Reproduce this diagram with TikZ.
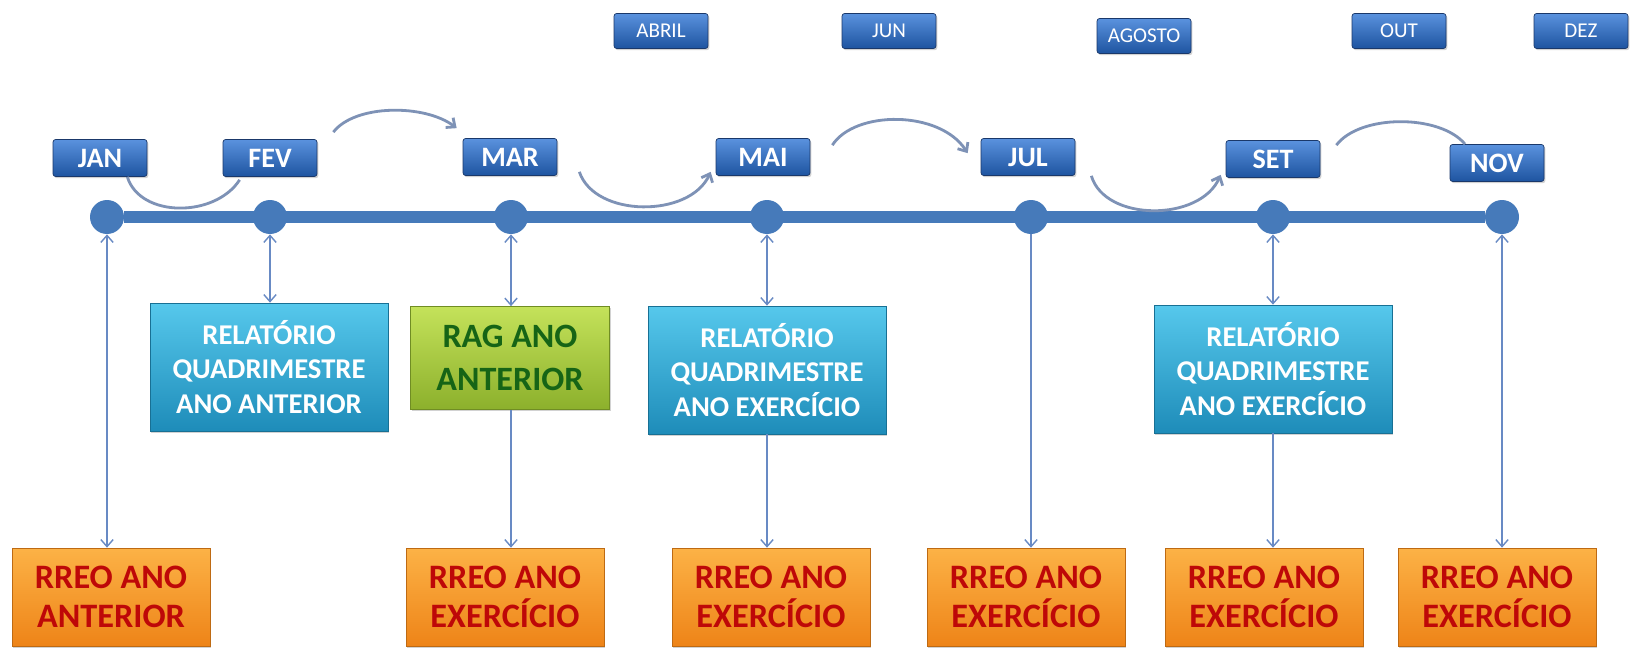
\documentclass[tikz,border=0pt]{standalone}
\usepackage{fontspec}
\setmainfont{Carlito}
\usetikzlibrary{positioning, arrows.meta, calc, shadows}

\definecolor{linha}{RGB}{70,122,186}
\definecolor{mescima}{RGB}{90,146,222}
\definecolor{mesbaixo}{RGB}{30,84,160}
\definecolor{mesborda}{RGB}{26,56,106}
\definecolor{relcima}{RGB}{86,200,236}
\definecolor{relbaixo}{RGB}{30,140,185}
\definecolor{ragcima}{RGB}{196,226,90}
\definecolor{ragbaixo}{RGB}{140,176,44}
\definecolor{ragtexto}{RGB}{22,100,22}
\definecolor{rreocima}{RGB}{252,178,70}
\definecolor{rreobaixo}{RGB}{238,132,24}
\definecolor{rreotexto}{RGB}{190,8,8}
\definecolor{setacor}{RGB}{104,138,196}
\definecolor{curvacor}{RGB}{126,146,182}

\begin{document}
\begin{tikzpicture}[x=0.02cm, y=-0.02cm, >={Straight Barb[length=4pt,width=7pt]},
    sombra/.style={drop shadow={opacity=0.35, shadow xshift=0.8pt, shadow yshift=-1pt}},
    mes/.style={draw=mesborda, top color=mescima, bottom color=mesbaixo, rounded corners=1.5pt,
        minimum width=1.88cm, minimum height=0.74cm, inner sep=0pt, text=white,
        font=\fontsize{16}{19}\selectfont\bfseries, sombra},
    mestopo/.style={mes, minimum height=0.7cm, font=\fontsize{12}{14}\selectfont},
    ponto/.style={circle, fill=linha, minimum size=0.68cm, inner sep=0pt},
    rel/.style={draw=relbaixo!80!black, top color=relcima, bottom color=relbaixo,
        minimum width=4.76cm, minimum height=2.56cm, inner sep=0pt, align=center,
        text=white, font=\fontsize{16.3}{19.8}\selectfont\bfseries, sombra},
    rag/.style={draw=ragbaixo!80!black, top color=ragcima, bottom color=ragbaixo,
        minimum width=3.98cm, minimum height=2.06cm, inner sep=0pt, align=center,
        text=ragtexto, font=\fontsize{19.4}{24.5}\selectfont\bfseries, sombra},
    rreo/.style={draw=rreobaixo!80!black, top color=rreocima, bottom color=rreobaixo,
        minimum width=3.96cm, minimum height=1.96cm, inner sep=0pt, align=center,
        text=rreotexto, font=\fontsize{19.5}{22}\selectfont\bfseries, sombra},
    seta/.style={draw=setacor, line width=0.8pt},
    curva/.style={draw=curvacor, line width=1.6pt}]

    \fill[white] (0,0) rectangle (1634,648);
    \useasboundingbox (0,0) rectangle (1634,648);

    % ---------------------------------------------------
    % Linha do tempo
    % ---------------------------------------------------
    \node[ponto] (dJAN) at (107,217) {};
    \node[ponto] (dFEV) at (270,217) {};
    \node[ponto] (dMAR) at (511,217) {};
    \node[ponto] (dMAI) at (767,217) {};
    \node[ponto] (dJUL) at (1031,217) {};
    \node[ponto] (dSET) at (1273,217) {};
    \node[ponto] (dNOV) at (1502,217) {};
    \draw[linha, line width=6.8pt] (dJAN) -- (dNOV);

    % ---------------------------------------------------
    % Meses
    % ---------------------------------------------------
    \node[mes] (JAN) at (100,158) {JAN};
    \node[mes] (FEV) at (270,158) {FEV};
    \node[mes] (MAR) at (510,157) {MAR};
    \node[mes] (MAI) at (763,157) {MAI};
    \node[mes] (JUL) at (1028,157) {JUL};
    \node[mes] (SET) at (1273,159) {SET};
    \node[mes] (NOV) at (1497,163) {NOV};

    \node[mestopo] (ABRIL) at (661,31) {ABRIL};
    \node[mestopo] (JUN) at (889,31) {JUN};
    \node[mestopo] (AGOSTO) at (1144,36) {AGOSTO};
    \node[mestopo] (OUT) at (1399,31) {OUT};
    \node[mestopo] (DEZ) at (1581,31) {DEZ};

    % Curvas entre os meses
    \draw[curva] ([xshift=-0.4cm]JAN.south east) .. controls (140,218) and (215,218) .. ([xshift=0.34cm, yshift=-0.06cm]FEV.south west);
    \draw[curva, ->] ([xshift=0.32cm, yshift=0.14cm]FEV.north east) .. controls (355,104) and (425,104) .. ([xshift=-0.12cm, yshift=0.2cm]MAR.north west);
    \draw[curva, ->] ([xshift=0.44cm, yshift=0.08cm]MAR.south east) .. controls (595,218) and (690,218) .. ([xshift=-0.1cm, yshift=0.08cm]MAI.south west);
    \draw[curva, ->] ([xshift=0.44cm, yshift=-0.14cm]MAI.north east) .. controls (855,110) and (940,110) .. ([xshift=-0.26cm, yshift=-0.3cm]JUL.north west);
    \draw[curva, ->] ([xshift=0.32cm]JUL.south east) .. controls (1105,222) and (1200,222) .. ([xshift=-0.1cm, yshift=0.06cm]SET.south west);
    \draw[curva] ([xshift=0.32cm, yshift=-0.1cm]SET.north east) .. controls (1360,114) and (1440,114) .. ([xshift=-0.64cm]NOV.north);

    % ---------------------------------------------------
    % Relatorios
    % ---------------------------------------------------
    \node[rel] (rel1) at (269,367) {RELATÓRIO\\QUADRIMESTRE\\ANO ANTERIOR};
    \node[rag] (rag) at (510,358) {RAG ANO\\ANTERIOR};
    \node[rel] (rel2) at (767,370) {RELATÓRIO\\QUADRIMESTRE\\ANO EXERCÍCIO};
    \node[rel] (rel3) at (1273,369) {RELATÓRIO\\QUADRIMESTRE\\ANO EXERCÍCIO};

    \node[rreo] (r1) at (111,597) {RREO ANO\\ANTERIOR};
    \node[rreo] (r2) at (505,597) {RREO ANO\\EXERCÍCIO};
    \node[rreo] (r3) at (771,597) {RREO ANO\\EXERCÍCIO};
    \node[rreo] (r4) at (1026,597) {RREO ANO\\EXERCÍCIO};
    \node[rreo] (r5) at (1264,597) {RREO ANO\\EXERCÍCIO};
    \node[rreo] (r6) at (1497,597) {RREO ANO\\EXERCÍCIO};

    % Setas verticais
    \draw[seta, <->] (dJAN) -- (dJAN |- r1.north);
    \draw[seta, <->] (dFEV) -- (dFEV |- rel1.north);
    \draw[seta, <->] (dMAR) -- (dMAR |- rag.north);
    \draw[seta, ->] (rag.south -| dMAR) -- (dMAR |- r2.north);
    \draw[seta, <->] (dMAI) -- (dMAI |- rel2.north);
    \draw[seta, ->] (rel2.south -| dMAI) -- (dMAI |- r3.north);
    \draw[seta, ->] (dJUL) -- (dJUL |- r4.north);
    \draw[seta, <->] (dSET) -- (dSET |- rel3.north);
    \draw[seta, ->] (rel3.south -| dSET) -- (dSET |- r5.north);
    \draw[seta, <->] (dNOV) -- (dNOV |- r6.north);

\end{tikzpicture}
\end{document}
